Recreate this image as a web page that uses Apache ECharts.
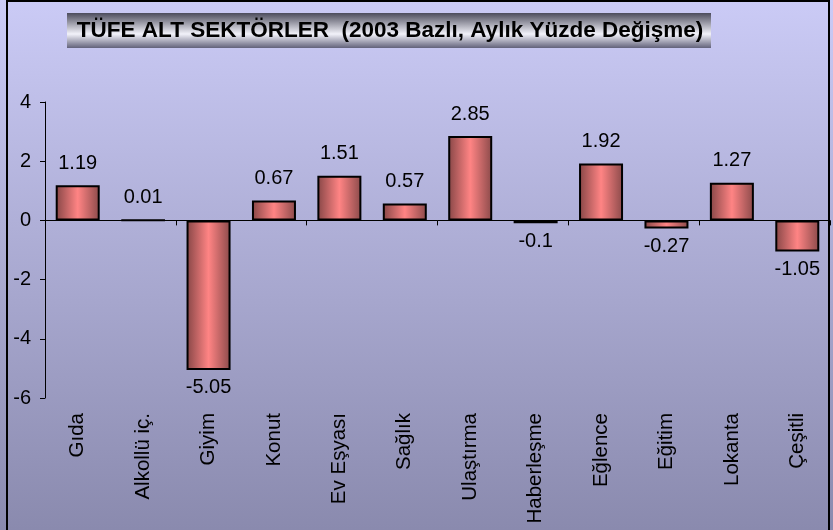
<!DOCTYPE html>
<html>
<head>
<meta charset="utf-8">
<script src="https://cdn.jsdelivr.net/npm/echarts@6/dist/echarts.min.js"></script>
<style>
  html, body { margin: 0; padding: 0; }
  #chart { width: 833px; height: 530px; }
</style>
</head>
<body>
<div id="chart"></div>
<script>
// kategoriler ve aylık yüzde değişmeler
const categories = ['Gıda', 'Alkollü iç.', 'Giyim', 'Konut', 'Ev Eşyası', 'Sağlık',
  'Ulaştırma', 'Haberleşme', 'Eğlence', 'Eğitim', 'Lokanta', 'Çeşitli'];
const values = [1.19, 0.01, -5.05, 0.67, 1.51, 0.57, 2.85, -0.1, 1.92, -0.27, 1.27, -1.05];
const titleText = 'TÜFE ALT SEKTÖRLER  (2003 Bazlı, Aylık Yüzde Değişme)';

const chart = echarts.init(document.getElementById('chart'));
const font = 'Liberation Sans, Arial, sans-serif';

const barColor = new echarts.graphic.LinearGradient(0, 0, 1, 0, [
  { offset: 0, color: '#864646' },
  { offset: 0.5, color: '#ff8484' },
  { offset: 1, color: '#8a4a4a' }
]);

const option = {
  animation: false,
  backgroundColor: new echarts.graphic.LinearGradient(0, 0, 0, 1, [
    { offset: 0, color: '#cbcbf6' },
    { offset: 1, color: '#8a8aae' }
  ]),
  textStyle: { fontFamily: font },
  graphic: [
    {
      type: 'rect',
      z: -1,
      shape: { x: 7, y: 1, width: 822, height: 560 },
      style: { fill: 'none', stroke: '#000', lineWidth: 2 }
    },
    {
      type: 'rect',
      z: 100,
      shape: { x: 67, y: 13, width: 644, height: 35 },
      style: {
        fill: new echarts.graphic.LinearGradient(0, 0, 0, 1, [
          { offset: 0, color: '#4c4c5c' },
          { offset: 0.6, color: '#f2f2fa' },
          { offset: 1, color: '#62627a' }
        ])
      }
    },
    {
      type: 'text',
      z: 101,
      x: 390,
      y: 31,
      style: {
        text: titleText,
        fill: '#000',
        font: 'bold 22.5px ' + font,
        textAlign: 'center',
        textVerticalAlign: 'middle'
      }
    }
  ],
  grid: { left: 45, right: 3, top: 102, bottom: 132, containLabel: false },
  xAxis: [
    {
      type: 'category',
      data: categories,
      position: 'bottom',
      axisLine: { show: false, onZero: false },
      axisTick: { show: false },
      axisLabel: { rotate: 90, margin: 15, color: '#000', fontSize: 20.5, fontFamily: font, interval: 0 }
    },
    {
      type: 'category',
      data: categories,
      position: 'bottom',
      axisLine: { show: true, onZero: true, lineStyle: { color: '#000', width: 1 } },
      axisTick: { show: true, inside: false, length: 5, lineStyle: { color: '#000' } },
      axisLabel: { show: false }
    }
  ],
  yAxis: {
    type: 'value',
    min: -6,
    max: 4,
    interval: 2,
    splitLine: { show: false },
    axisLine: { show: true, lineStyle: { color: '#000', width: 1 } },
    axisTick: { show: true, length: 5, lineStyle: { color: '#000' } },
    axisLabel: { color: '#000', fontSize: 20, fontFamily: font, margin: 14 }
  },
  series: [
    {
      type: 'bar',
      xAxisIndex: 0,
      barWidth: 44,
      itemStyle: { color: barColor, borderColor: '#000', borderWidth: 2 },
      label: { show: true, color: '#000', fontSize: 20, fontFamily: font },
      // negatif değerlerin etiketi çubuğun altında
      data: values.map(function (v) {
        return {
          value: v,
          label: { position: v < 0 ? 'bottom' : 'top', distance: v < 0 ? 8 : 12 }
        };
      })
    }
  ]
};

chart.setOption(option);
</script>
</body>
</html>
